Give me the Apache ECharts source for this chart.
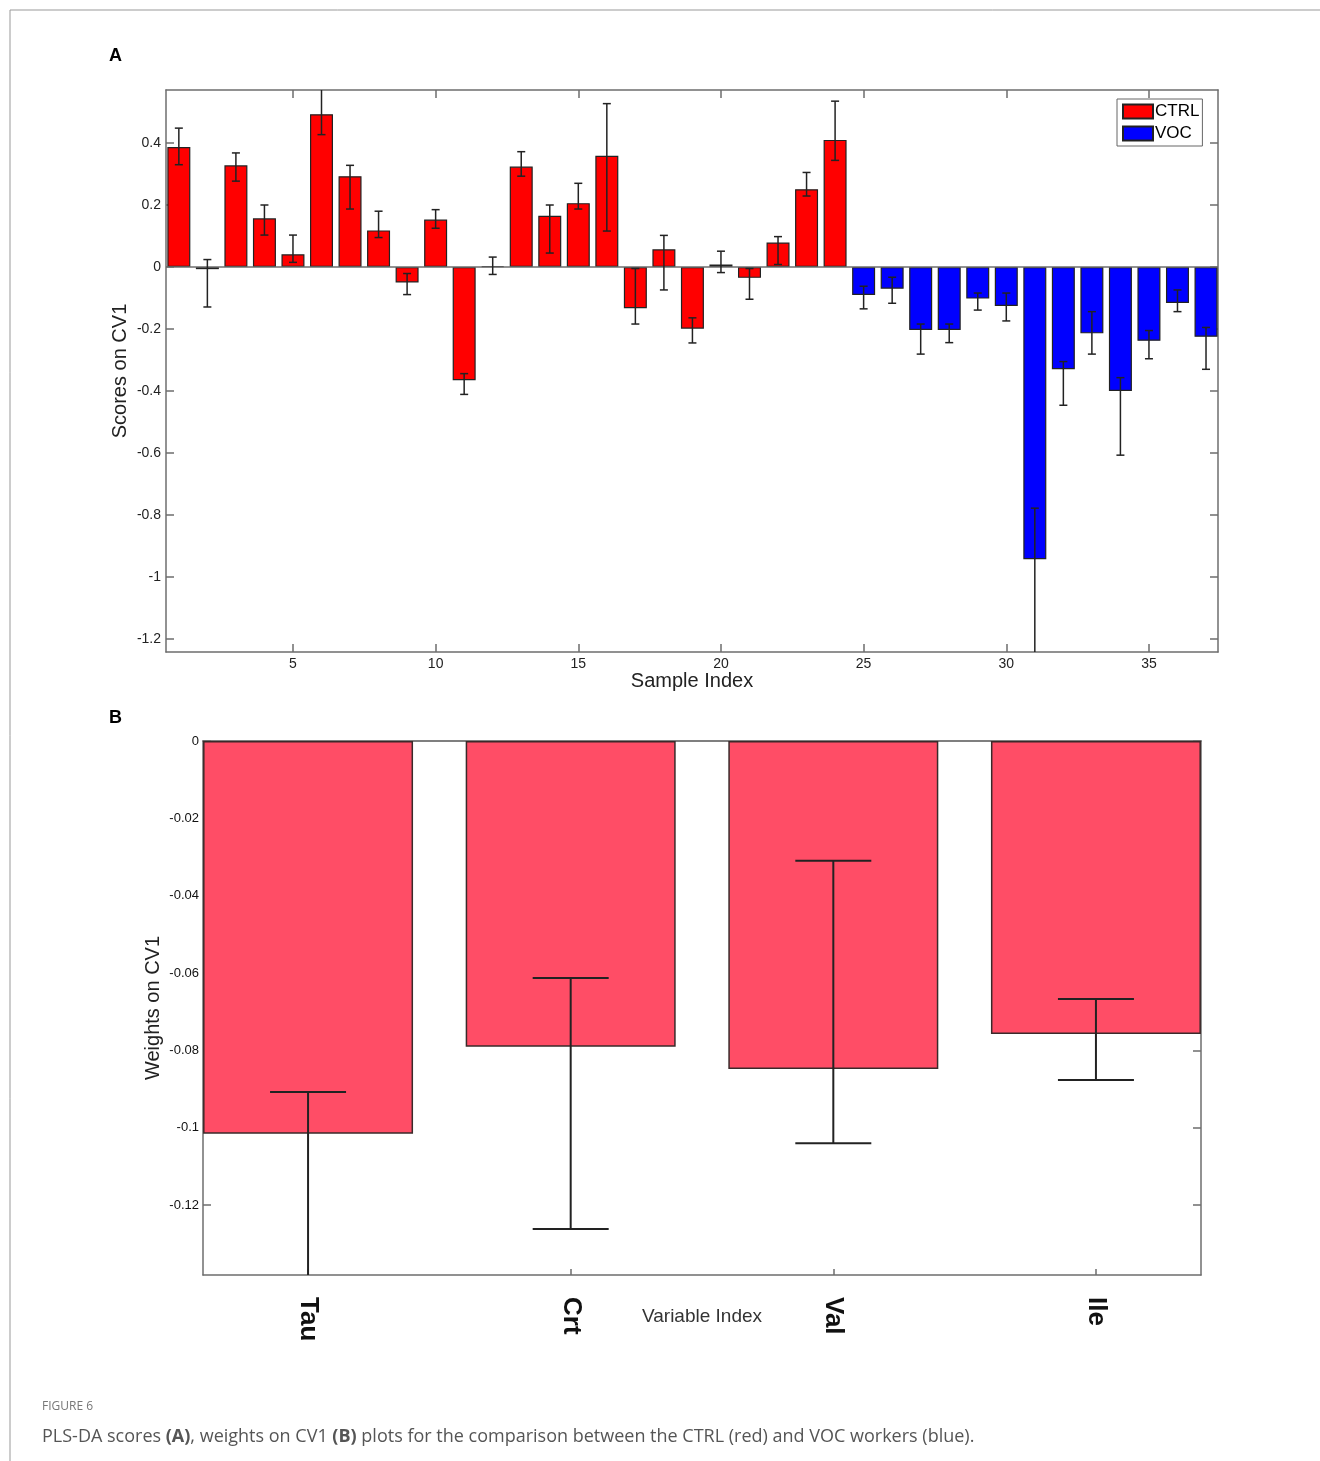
<!DOCTYPE html>
<html>
<head>
<meta charset="utf-8">
<script src="https://cdn.jsdelivr.net/npm/echarts@6/dist/echarts.min.js"></script>
<style>
html,body{margin:0;padding:0;background:#fff;}
#chart{width:1320px;height:1461px;}
</style>
</head>
<body>
<div id="chart"></div>
<script>
// ---------- Panel A data ----------
const sampleIndexA = [1,2,3,4,5,6,7,8,9,10,11,12,13,14,15,16,17,18,19,20,21,22,23,24,25,26,27,28,29,30,31,32,33,34,35,36,37];
const groupA = ['CTRL','CTRL','CTRL','CTRL','CTRL','CTRL','CTRL','CTRL','CTRL','CTRL','CTRL','CTRL','CTRL','CTRL','CTRL','CTRL','CTRL','CTRL','CTRL','CTRL','CTRL','CTRL','CTRL','CTRL','VOC','VOC','VOC','VOC','VOC','VOC','VOC','VOC','VOC','VOC','VOC','VOC','VOC'];
const scoresA = [0.387,-0.007,0.328,0.157,0.041,0.493,0.293,0.118,-0.050,0.153,-0.365,0.003,0.324,0.165,0.206,0.359,-0.133,0.057,-0.199,0.008,-0.035,0.079,0.251,0.410,-0.090,-0.070,-0.203,-0.203,-0.102,-0.126,-0.943,-0.330,-0.214,-0.400,-0.238,-0.116,-0.225];
const errLowA = [0.330,-0.129,0.277,0.103,0.015,0.427,0.187,0.095,-0.089,0.125,-0.411,-0.024,0.293,0.045,0.187,0.116,-0.184,-0.074,-0.245,-0.018,-0.104,0.008,0.229,0.344,-0.135,-0.117,-0.281,-0.244,-0.139,-0.174,-1.30,-0.446,-0.281,-0.607,-0.296,-0.144,-0.330];
const errHighA = [0.448,0.024,0.368,0.200,0.103,0.590,0.328,0.180,-0.021,0.185,-0.344,0.032,0.372,0.200,0.270,0.527,-0.005,0.102,-0.164,0.051,-0.005,0.098,0.305,0.535,-0.062,-0.033,-0.184,-0.184,-0.084,-0.084,-0.778,-0.305,-0.144,-0.357,-0.205,-0.074,-0.195];
const xTicksA = [5,10,15,20,25,30,35];
const yTicksA = [-1.2,-1,-0.8,-0.6,-0.4,-0.2,0,0.2,0.4];

// ---------- Panel B data ----------
const variablesB = ['Tau','Crt','Val','Ile'];
const weightsB = [-0.1016,-0.0791,-0.0848,-0.0758];
const errLowB = [-0.145,-0.1262,-0.1040,-0.0877];
const errHighB = [-0.0908,-0.0613,-0.0310,-0.0667];
const yTicksB = [-0.12,-0.1,-0.08,-0.06,-0.04,-0.02,0];

// ---------- build ----------
const ctrlData = [], vocData = [], errDataA = [];
sampleIndexA.forEach((x, i) => {
  (groupA[i] === 'CTRL' ? ctrlData : vocData).push([x, scoresA[i]]);
  errDataA.push([x, errLowA[i], errHighA[i]]);
});
const posB = variablesB.map((_, i) => i + 1);
const barDataB = posB.map((x, i) => [x, weightsB[i]]);
const errDataB = posB.map((x, i) => [x, errLowB[i], errHighB[i]]);

function errRender(capPx, color, width) {
  return function (params, api) {
    const x = api.value(0), lo = api.value(1), hi = api.value(2);
    const p1 = api.coord([x, hi]), p2 = api.coord([x, lo]);
    const st = { stroke: color, lineWidth: width };
    return { type: 'group', children: [
      { type: 'line', shape: { x1: p1[0], y1: p1[1], x2: p2[0], y2: p2[1] }, style: st },
      { type: 'line', shape: { x1: p1[0] - capPx, y1: p1[1], x2: p1[0] + capPx, y2: p1[1] }, style: st },
      { type: 'line', shape: { x1: p2[0] - capPx, y1: p2[1], x2: p2[0] + capPx, y2: p2[1] }, style: st }
    ]};
  };
}

const FONT = 'Liberation Sans';
const axisGray = '#6e6e6e';

const chart = echarts.init(document.getElementById('chart'), null, { renderer: 'canvas' });
const option = {
  animation: false,
  backgroundColor: '#fff',
  textStyle: { fontFamily: FONT },
  grid: [
    { left: 166, top: 90, width: 1052, height: 562 },
    { left: 203, top: 741, width: 998, height: 534 }
  ],
  legend: {
    data: ['CTRL', 'VOC'],
    orient: 'vertical',
    left: 1117, top: 99,
    itemWidth: 30, itemHeight: 14, itemGap: 5,
    icon: 'rect',
    borderColor: '#666', borderWidth: 1,
    padding: [4, 3, 4, 5],
    backgroundColor: '#fff',
    textStyle: { fontSize: 17, color: '#000', fontFamily: FONT, padding: [0, 0, 0, -3] }
  },
  xAxis: [
    { gridIndex: 0, type: 'value', min: 0.55, max: 37.42, position: 'bottom',
      axisLine: { show: true, onZero: false, lineStyle: { color: axisGray, width: 1.5 } },
      axisTick: { show: true, inside: true, length: 8, customValues: xTicksA, lineStyle: { color: axisGray, width: 1.5 } },
      axisLabel: { customValues: xTicksA, fontSize: 14, color: '#222', margin: 5 },
      splitLine: { show: false },
      name: 'Sample Index', nameLocation: 'middle', nameGap: 19, nameMoveOverlap: false,
      nameTextStyle: { fontSize: 20, color: '#222' } },
    { gridIndex: 0, type: 'value', min: 0.55, max: 37.42, position: 'top',
      axisLine: { show: true, onZero: false, lineStyle: { color: axisGray, width: 1.5 } },
      axisTick: { show: true, inside: true, length: 8, customValues: xTicksA, lineStyle: { color: axisGray, width: 1.5 } },
      axisLabel: { show: false }, splitLine: { show: false } },
    { gridIndex: 1, type: 'value', min: 0.6, max: 4.4, position: 'bottom',
      axisLine: { show: true, onZero: false, lineStyle: { color: axisGray, width: 1.5 } },
      axisTick: { show: true, inside: true, length: 6, customValues: posB, lineStyle: { color: axisGray, width: 1.5 } },
      axisLabel: { customValues: posB, rotate: -90, fontSize: 26, fontWeight: 'bold', color: '#111', margin: 22,
        formatter: v => variablesB[Math.round(v) - 1] },
      splitLine: { show: false },
      name: 'Variable Index', nameLocation: 'middle', nameGap: 32, nameMoveOverlap: false,
      nameTextStyle: { fontSize: 19, color: '#333' } },
    { gridIndex: 1, type: 'value', min: 0.6, max: 4.4, position: 'top',
      axisLine: { show: true, onZero: false, lineStyle: { color: '#555', width: 1.5 } },
      axisTick: { show: false }, axisLabel: { show: false }, splitLine: { show: false } }
  ],
  yAxis: [
    { gridIndex: 0, type: 'value', min: -1.242, max: 0.571, position: 'left',
      axisLine: { show: true, onZero: false, lineStyle: { color: axisGray, width: 1.5 } },
      axisTick: { show: true, inside: true, length: 8, customValues: yTicksA, lineStyle: { color: axisGray, width: 1.5 } },
      axisLabel: { customValues: yTicksA, fontSize: 14, color: '#222', margin: 5, formatter: v => String(v) },
      splitLine: { show: false },
      name: 'Scores on CV1', nameLocation: 'middle', nameGap: 36, nameMoveOverlap: false,
      nameTextStyle: { fontSize: 20, color: '#222' } },
    { gridIndex: 0, type: 'value', min: -1.242, max: 0.571, position: 'right',
      axisLine: { show: true, onZero: false, lineStyle: { color: axisGray, width: 1.5 } },
      axisTick: { show: true, inside: true, length: 8, customValues: yTicksA, lineStyle: { color: axisGray, width: 1.5 } },
      axisLabel: { show: false }, splitLine: { show: false } },
    { gridIndex: 1, type: 'value', min: -0.1381, max: 0, position: 'left',
      axisLine: { show: true, onZero: false, lineStyle: { color: axisGray, width: 1.5 } },
      axisTick: { show: true, inside: true, length: 8, customValues: yTicksB, lineStyle: { color: axisGray, width: 1.5 } },
      axisLabel: { customValues: yTicksB, fontSize: 13, color: '#111', margin: 4, formatter: v => String(v) },
      splitLine: { show: false },
      name: 'Weights on CV1', nameLocation: 'middle', nameGap: 40, nameMoveOverlap: false,
      nameTextStyle: { fontSize: 20, color: '#222' } },
    { gridIndex: 1, type: 'value', min: -0.1381, max: 0, position: 'right',
      axisLine: { show: true, onZero: false, lineStyle: { color: axisGray, width: 1.5 } },
      axisTick: { show: true, inside: true, length: 8, customValues: yTicksB, lineStyle: { color: axisGray, width: 1.5 } },
      axisLabel: { show: false }, splitLine: { show: false } }
  ],
  series: [
    { name: 'CTRL', type: 'bar', xAxisIndex: 0, yAxisIndex: 0, data: ctrlData,
      barWidth: 23, barGap: '-100%',
      itemStyle: { color: '#ff0000', borderColor: '#222', borderWidth: 1.2 },
      markLine: { silent: true, symbol: 'none', label: { show: false },
        lineStyle: { color: axisGray, width: 1.5, type: 'solid' }, data: [{ yAxis: 0 }] } },
    { name: 'VOC', type: 'bar', xAxisIndex: 0, yAxisIndex: 0, data: vocData,
      barWidth: 23, barGap: '-100%',
      itemStyle: { color: '#0000ff', borderColor: '#222', borderWidth: 1.2 } },
    { name: 'errA', type: 'custom', xAxisIndex: 0, yAxisIndex: 0, data: errDataA, clip: true, z: 5,
      encode: { x: 0, y: [1, 2] }, renderItem: errRender(4, '#222', 1.5) },
    { name: 'weights', type: 'bar', xAxisIndex: 2, yAxisIndex: 2, data: barDataB,
      barWidth: 210,
      itemStyle: { color: '#ff4d66', borderColor: '#3a2a2a', borderWidth: 1.5 } },
    { name: 'errB', type: 'custom', xAxisIndex: 2, yAxisIndex: 2, data: errDataB, clip: true, z: 5,
      encode: { x: 0, y: [1, 2] }, renderItem: errRender(38, '#222', 2) }
  ],
  graphic: [
    { type: 'line', shape: { x1: 10, y1: 10, x2: 1320, y2: 10 }, style: { stroke: '#999', lineWidth: 1 } },
    { type: 'line', shape: { x1: 10, y1: 10, x2: 10, y2: 1461 }, style: { stroke: '#999', lineWidth: 1 } },
    { type: 'text', left: 109, top: 47, style: { text: 'A', fontSize: 18, fontWeight: 'bold', fill: '#000', fontFamily: FONT } },
    { type: 'text', left: 109, top: 709, style: { text: 'B', fontSize: 18, fontWeight: 'bold', fill: '#000', fontFamily: FONT } },
    { type: 'text', left: 42, top: 1401, style: { text: 'FIGURE 6', fontSize: 12, fill: '#777', fontFamily: 'Open Sans' } },
    { type: 'text', left: 42, top: 1428, style: {
      text: 'PLS-DA scores {b|(A)}, weights on CV1 {b|(B)} plots for the comparison between the CTRL (red) and VOC workers (blue).',
      fontSize: 18, fill: '#555', fontFamily: 'Open Sans',
      rich: { b: { fontWeight: 'bold', fontSize: 18, fill: '#555', fontFamily: 'Open Sans' } } } }
  ]
};
chart.setOption(option);
</script>
</body>
</html>
